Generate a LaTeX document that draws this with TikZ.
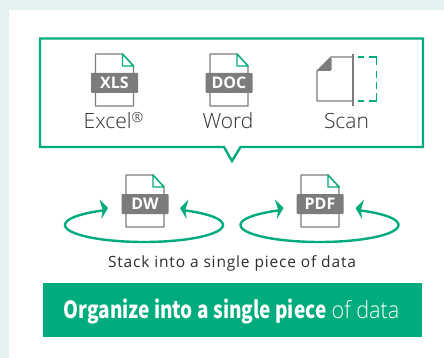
\documentclass[tikz,border=0pt]{standalone}
\usepackage{fontspec}
\setmainfont{Open Sans}
\newfontfamily\bannerfont{Noto Sans CJK JP}
\newfontfamily\lightfont{Open Sans Light}
\definecolor{palebg}{HTML}{E3F2F0}
\definecolor{brandgreen}{HTML}{00AC7D}
\definecolor{icongrey}{HTML}{7C7C7C}
\definecolor{inkgrey}{HTML}{2E2E2E}
\tikzset{
  bubble/.style={draw=brandgreen,line width=2.4pt,fill=white,line join=miter},
  pageline/.style={draw=icongrey,line width=1.4pt,line join=round},
  foldline/.style={draw=brandgreen,line width=1.4pt,fill=white,line join=round},
  bandbox/.style={fill=icongrey,rounded corners=1pt},
  bandtext/.style={text=white,font=\fontsize{16}{16}\selectfont\bfseries,inner sep=0pt,anchor=center},
  caption/.style={text=inkgrey,font=\lightfont\fontsize{21}{21}\selectfont,inner sep=0pt,anchor=base},
  hoop/.style={draw=brandgreen,line width=2.4pt},
  hoophead/.style={fill=brandgreen,draw=none},
  dashside/.style={draw=brandgreen,line width=1.5pt,line join=miter},
}
\newcommand{\fileicon}[4]{% name, cx, top, label
  \begin{scope}[shift={(#2,#3)}]
    \draw[pageline,fill=white] (-19,0) -- (8,0) -- (19,12) -- (19,52) -- (-19,52) -- cycle;
    \draw[foldline] (8,0) -- (19,12) -- (8,12) -- cycle;
    \fill[bandbox] (-23.5,19) rectangle (23.5,39);
    \node[bandtext] (#1) at (0,29.2) {#4};
  \end{scope}}
\newcommand{\loopring}[2]{% cx, cy
  \begin{scope}[shift={(#1,#2)}]
    \draw[hoop] plot[smooth,samples=70,domain=240.4:-60.4] ({79*cos(\x)},{17*sin(\x)});
    \fill[hoophead] (-36,-17) -- (-44.5,-25.5) -- (-41.5,-15.5) -- (-42.5,-6) -- cycle;
    \fill[hoophead] (36,-17) -- (44.5,-25.5) -- (41.5,-15.5) -- (42.5,-6) -- cycle;
  \end{scope}}
\begin{document}
\begin{tikzpicture}[x=1pt,y=-1pt]
  \useasboundingbox (0,0) rectangle (444,358);
  \fill[white] (0,0) rectangle (444,358);
  \fill[palebg] (0,0) rectangle (444,10);
  \fill[palebg] (0,0) rectangle (9,358);
  % speech bubble
  \draw[bubble] (40,38.5) -- (423,38.5) -- (423,147) -- (240.5,147) -- (232,161) -- (224,147) -- (40,147) -- cycle;
  % source icons
  \fileicon{xls}{114.5}{54}{XLS}
  \fileicon{doc}{229}{54}{DOC}
  \node[caption] (excel) at (113.5,129) {Excel\raisebox{6pt}{\fontsize{14}{14}\selectfont ®}};
  \node[caption] (word) at (228,129) {Word};
  \node[caption] (scan) at (346.5,129) {Scan};
  % scan icon
  \draw[pageline,fill=white] (317,71) -- (331,57) -- (353,57) -- (353,101) -- (317,101) -- cycle;
  \fill[icongrey,rounded corners=1.5pt] (317,71) -- (331.5,57) -- (331.5,71) -- (317,71) -- cycle;
  \draw[icongrey,line width=1.6pt] (353,54) -- (353,106);
  \draw[dashside] (357.7,57) -- (364,57) (369,57) -- (376.7,57) -- (376.7,65)
    (376.7,71) -- (376.7,78) (376.7,82) -- (376.7,89)
    (376.7,93) -- (376.7,101) -- (369,101) (364,101) -- (357.7,101);
  % stacked data
  \loopring{144}{225}
  \loopring{319.5}{225}
  \fileicon{dw}{145}{175}{DW}
  \fileicon{pdf}{320}{175}{PDF}
  \node[text=inkgrey,font=\fontsize{15.5}{16}\selectfont\addfontfeatures{LetterSpace=5.4},inner sep=0pt,anchor=base] (stack) at (232,267) {Stack into a single piece of data};
  % banner
  \fill[brandgreen] (43,283) rectangle (421.7,336.7);
  \node[text=white,font=\fontsize{23.5}{26}\selectfont,inner sep=0pt,anchor=base] (banner) at (231.5,318) {\bannerfont\textbf{\scalebox{0.81}[1]{Organize into a single piece}} {\lightfont\scalebox{0.92}[1]{of data}}};
\end{tikzpicture}
\end{document}
